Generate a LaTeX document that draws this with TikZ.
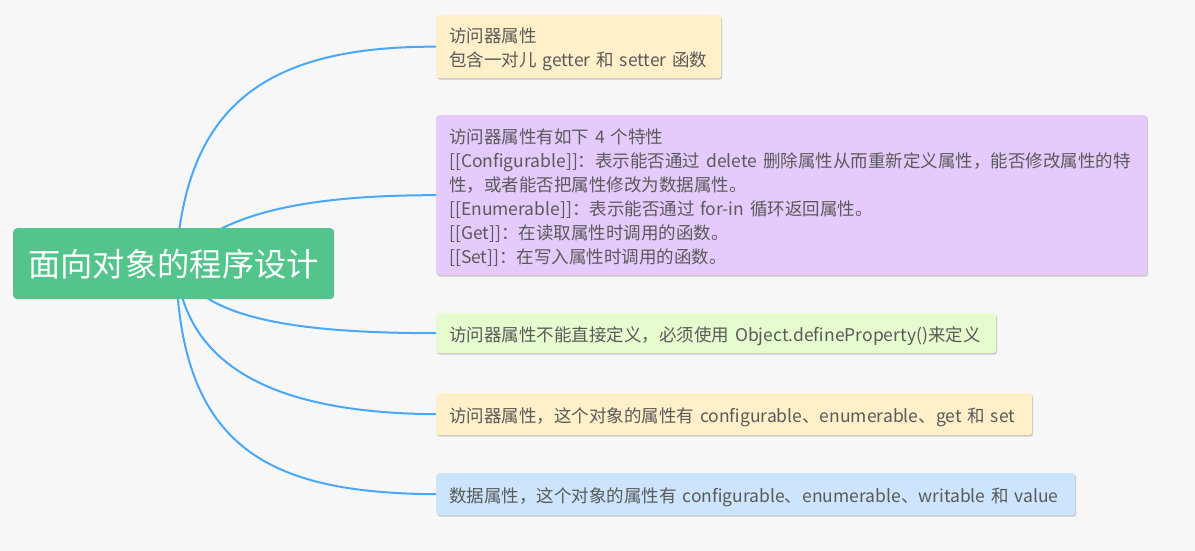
\documentclass[tikz,border=0pt]{standalone}
\usepackage{fontspec}
\setmainfont{Noto Sans CJK SC}
\usetikzlibrary{shadows}
\definecolor{bg}{HTML}{F7F7F7}
\definecolor{rootc}{HTML}{52C48C}
\definecolor{linec}{HTML}{4AA8FC}
\definecolor{yel}{HTML}{FFF0C9}
\definecolor{pur}{HTML}{E4CBFB}
\definecolor{gre}{HTML}{E6FCCF}
\definecolor{blu}{HTML}{CCE4FC}
\definecolor{txt}{HTML}{5A5A5A}
\tikzset{
  topic/.style={anchor=north west, rounded corners=3pt, align=left, inner xsep=13pt, inner ysep=0pt,
    text=txt, font={\fontsize{17.5}{24}\selectfont},
    execute at begin node={\rule{0pt}{20.5pt}},
    drop shadow={shadow xshift=1pt, shadow yshift=-1.5pt, opacity=.18, fill=black}},
  conn/.style={draw=linec, line width=2pt}
}
\begin{document}
\begin{tikzpicture}[x=1pt,y=-1pt]
\fill[bg] (0,0) rectangle (1195,551);
\useasboundingbox (0,0) rectangle (1195,551);
\node[topic, fill=yel, minimum width=285pt, minimum height=63pt, text width=259pt] (b1) at (436,15)
  {访问器属性\\包含一对儿 getter 和 setter 函数};
\node[topic, fill=pur, minimum width=711pt, minimum height=160pt, text width=685pt] (b2) at (436,115)
  {访问器属性有如下 4 个特性\\
   {[[Configurable]]}：表示能否通过 delete 删除属性从而重新定义属性，能否修改属性的特\\
   性，或者能否把属性修改为数据属性。\\
   {[[Enumerable]]}：表示能否通过 for-in 循环返回属性。\\
   {[[Get]]}：在读取属性时调用的函数。\\
   {[[Set]]}：在写入属性时调用的函数。};
\node[topic, fill=gre, minimum width=560pt, minimum height=40pt, text width=534pt] (b3) at (436,313)
  {访问器属性不能直接定义，必须使用 Object.defineProperty()来定义};
\node[topic, fill=yel, minimum width=596pt, minimum height=42pt, text width=570pt] (b4) at (436,393)
  {访问器属性，这个对象的属性有 configurable、enumerable、get 和 set};
\node[topic, fill=blu, minimum width=639pt, minimum height=42pt, text width=613pt] (b5) at (436,473)
  {数据属性，这个对象的属性有 configurable、enumerable、writable 和 value};
\coordinate (c) at (176,264);
\draw[conn] (c) .. controls (185,110) and (260,46) .. (b1.west);
\draw[conn] (c) .. controls (215,215) and (300,195) .. (b2.west);
\draw[conn] (c) .. controls (200,320) and (300,333) .. (b3.west);
\draw[conn] (c) .. controls (185,370) and (280,413) .. (b4.west);
\draw[conn] (c) .. controls (180,450) and (270,493) .. (b5.west);
\node[anchor=north west, fill=rootc, rounded corners=4pt, minimum width=321pt, minimum height=71pt,
  text=white, font={\fontsize{32.3}{38}\selectfont}, inner sep=0pt] (root) at (13,228) {面向对象的程序设计};
\end{tikzpicture}
\end{document}
